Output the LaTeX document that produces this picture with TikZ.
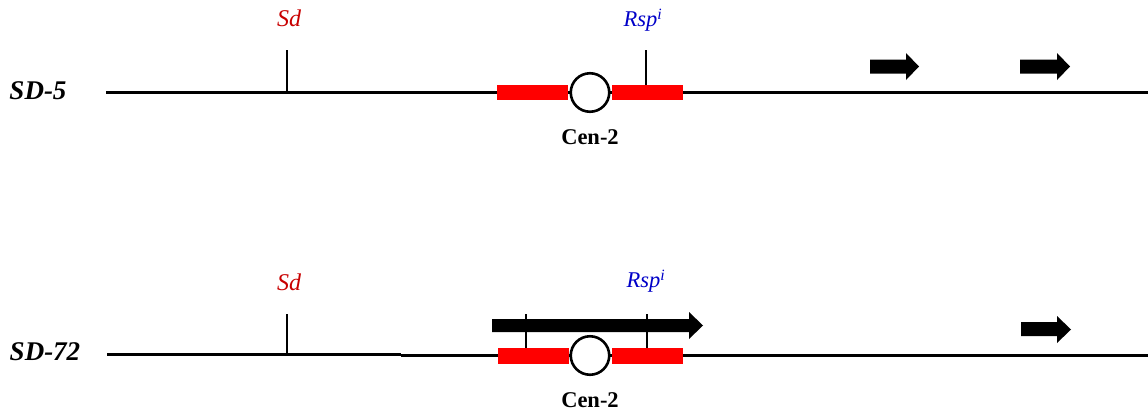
\documentclass[tikz,border=0pt]{standalone}
\usepackage{fontspec}
\setmainfont{Liberation Serif}
\definecolor{sdred}{RGB}{200,0,0}
\definecolor{rspblue}{RGB}{0,0,200}
\begin{document}
\begin{tikzpicture}[x=1pt,y=-1pt,
  chrom/.style={line width=3pt},
  tickline/.style={line width=1.8pt},
  redbar/.style={rectangle,fill=red,draw=none,inner sep=0pt,minimum width=71pt,minimum height=15.5pt},
  cen/.style={circle,draw=black,fill=white,line width=2.6pt,inner sep=0pt,minimum size=38.5pt},
  strain/.style={font=\fontsize{27}{27}\selectfont\bfseries\itshape,inner sep=0pt},
  sdlab/.style={font=\fontsize{24}{24}\selectfont\itshape,text=sdred,inner sep=0pt},
  rsplab/.style={font=\fontsize{22.5}{22.5}\selectfont\itshape,text=rspblue,inner sep=0pt},
  cenlab/.style={font=\fontsize{22.5}{22.5}\selectfont\bfseries,inner sep=0pt},
  blockarrow/.style={fill=black,draw=none}]
\useasboundingbox (0,0) rectangle (1148,413);

% ---------------- SD-5 ----------------
\node[strain] (s5) at (38,91) {SD-5};
\coordinate (l5a) at (106,92);
\coordinate (l5b) at (1148,92);
\draw[chrom] (l5a) -- (l5b);
\node[redbar] (rb5l) at (532.5,92.5) {};
\node[redbar] (rb5r) at (647,92.5) {};
\node[cen] (c5) at (590,92.5) {};
\coordinate (sd5t) at (287,50);
\draw[tickline] (sd5t) -- (sd5t |- l5a);
\coordinate (rsp5t) at (646,50);
\draw[tickline] (rsp5t) -- (rsp5t |- rb5r.north);
\node[sdlab] (sd5) at (289,18) {Sd};
\node[rsplab] (rsp5) at (643,20) {Rsp\textsuperscript{i}};
\node[cenlab] (cl5) at (590,137) {Cen-2};
\fill[blockarrow] (870,59.5) -- (906,59.5) -- (906,53) -- (919,66.5) -- (906,80) -- (906,73.5) -- (870,73.5) -- cycle;
\fill[blockarrow] (1020,59.5) -- (1057,59.5) -- (1057,53) -- (1070,66.5) -- (1057,80) -- (1057,73.5) -- (1020,73.5) -- cycle;

% ---------------- SD-72 ----------------
\node[strain] (s72) at (45,352) {SD-72};
\coordinate (l72a) at (107,354);
\coordinate (l72m) at (401,354);
\coordinate (l72n) at (401,355.5);
\coordinate (l72b) at (1148,355.5);
\draw[chrom] (l72a) -- (l72m);
\draw[chrom] (l72n) -- (l72b);
\fill[blockarrow] (492,319) -- (689,319) -- (689,312) -- (703,325.5) -- (689,339) -- (689,332) -- (492,332) -- cycle;
\node[redbar,minimum height=16pt] (rb72l) at (533,356) {};
\node[redbar,minimum height=16pt] (rb72r) at (647.5,356) {};
\node[cen] (c72) at (590,355.5) {};
\coordinate (t1) at (526,314);
\coordinate (t2) at (647,314);
\draw[tickline] (t1) -- (t1 |- rb72l.north);
\draw[tickline] (t2) -- (t2 |- rb72r.north);
\coordinate (sd72t) at (287,314);
\draw[tickline] (sd72t) -- (sd72t |- l72a);
\node[sdlab] (sd72) at (289,282) {Sd};
\node[rsplab] (rsp72) at (646,281) {Rsp\textsuperscript{i}};
\node[cenlab] (cl72) at (590,400) {Cen-2};
\fill[blockarrow] (1021,322) -- (1057,322) -- (1057,316) -- (1071,329.5) -- (1057,343) -- (1057,336) -- (1021,336) -- cycle;
\end{tikzpicture}
\end{document}
